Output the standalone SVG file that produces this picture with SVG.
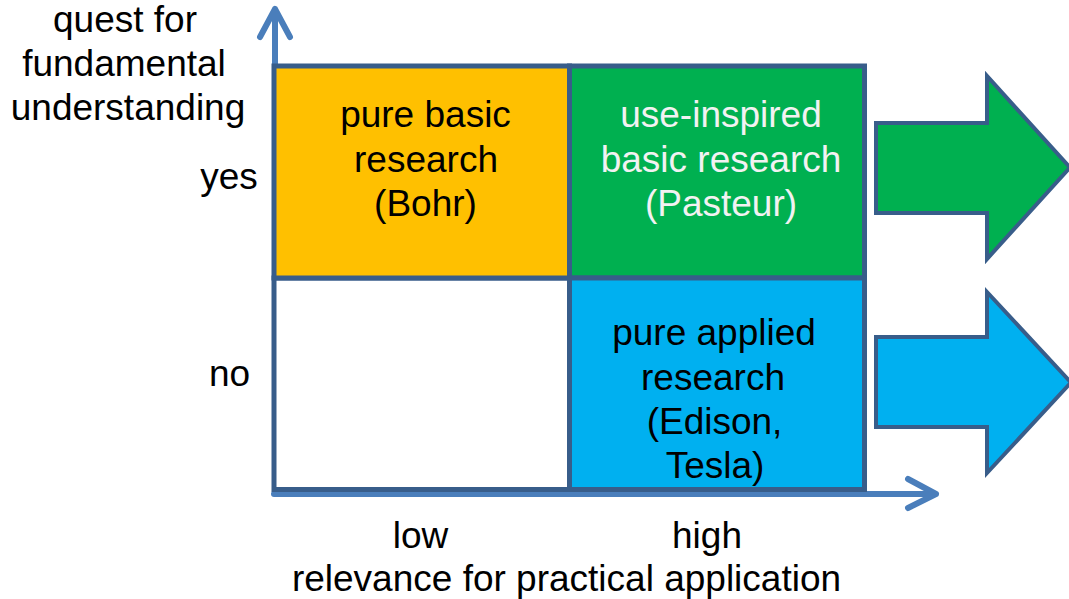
<svg xmlns="http://www.w3.org/2000/svg" width="1069" height="599" viewBox="0 0 1069 599">
<style>
text{font-family:"Liberation Sans",Arial,sans-serif;font-size:37px;text-anchor:middle;fill:#000}
.w{fill:#F2F2F2}
.cell{stroke:#385D8A;stroke-width:5}
.big{stroke:#385D8A;stroke-width:4;stroke-linejoin:miter}
.axis{fill:none;stroke:#4A7EBB;stroke-width:6;stroke-linecap:round;stroke-linejoin:round}
</style>
<rect width="1069" height="599" fill="#fff"/>
<g id="connectors">
<path class="axis" d="M275,490 V9 M260,37 L275,9 L290,37"/>
<path class="axis" d="M274,494 H936 M908,479 L936,494 L908,508"/>
</g>
<g id="cell-empty"><rect class="cell" x="274" y="278" width="295.5" height="211.5" fill="#fff"/></g>
<g id="cell-bohr">
<rect class="cell" x="274" y="66" width="295.5" height="212" fill="#FFC000"/>
<text x="425.5" y="127">pure basic</text>
<text x="426" y="172">research</text>
<text x="425.5" y="216">(Bohr)</text>
</g>
<g id="cell-pasteur">
<rect class="cell" x="569.5" y="66" width="295" height="212" fill="#00B050"/>
<text class="w" x="721" y="127">use-inspired</text>
<text class="w" x="721" y="172">basic research</text>
<text class="w" x="721" y="216">(Pasteur)</text>
</g>
<g id="cell-edison">
<rect class="cell" x="569.5" y="278" width="295" height="211.5" fill="#00B0F0"/>
<text x="714" y="345">pure applied</text>
<text x="713" y="390">research</text>
<text x="714.5" y="434">(Edison,</text>
<text x="715" y="478">Tesla)</text>
</g>
<g id="arrow-green"><polygon class="big" fill="#00B050" points="876,123 987,123 987,76 1070,167.5 987,259 987,213 876,213"/></g>
<g id="arrow-blue"><polygon class="big" fill="#00B0F0" points="876,337 987,337 987,292 1071,382.5 987,473 987,427 876,427"/></g>
<g id="y-label">
<text x="125" y="32">quest for</text>
<text x="124" y="76">fundamental</text>
<text x="128" y="120">understanding</text>
</g>
<g id="y-ticks">
<text x="229" y="189">yes</text>
<text x="229.5" y="386">no</text>
</g>
<g id="x-ticks">
<text x="420.5" y="548">low</text>
<text x="707" y="548">high</text>
</g>
<g id="x-label"><text x="566.5" y="591">relevance for practical application</text></g>
</svg>
